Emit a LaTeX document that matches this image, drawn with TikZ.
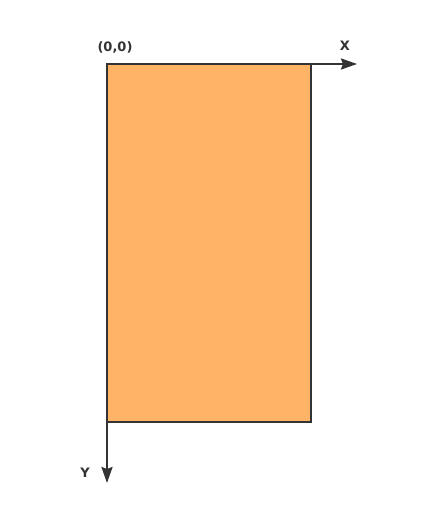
\documentclass[tikz,border=0pt]{standalone}
\usepackage{fontspec}
\setmainfont{DejaVu Sans}
\usepackage{xcolor}
\usetikzlibrary{
	arrows.meta,
	positioning,
}
\definecolor{boxfill}{HTML}{FFB366}
\definecolor{ink}{HTML}{333333}
\tikzset{
	area/.style={draw=ink, fill=boxfill, line width=2.2pt, inner sep=0pt, outer sep=0pt,
		minimum width=204pt, minimum height=358pt, anchor=north west},
	axis/.style={draw=ink, line width=2.2pt, -{Stealth[length=16pt, width=11pt, inset=2pt]}},
	axislabel/.style={text=ink, font=\fontsize{13}{15}\selectfont\bfseries, inner sep=0pt},
}

\begin{document}
\begin{tikzpicture}[x=1pt, y=-1pt]
	\useasboundingbox (0,0) rectangle (430,516);
	\coordinate (origin) at (107,64);
	\coordinate (xend) at (357,64);
	\coordinate (yend) at (107,483);

	\draw[axis] (origin) -- (xend);
	\draw[axis] (origin) -- (yend);
	\node[area] (rect) at (origin) {};

	\node[axislabel] (zero) at (115,47) {(0,0)};
	\node[axislabel] (xlab) at (345,46) {X};
	\node[axislabel] (ylab) at (85,473) {Y};
\end{tikzpicture}
\end{document}
